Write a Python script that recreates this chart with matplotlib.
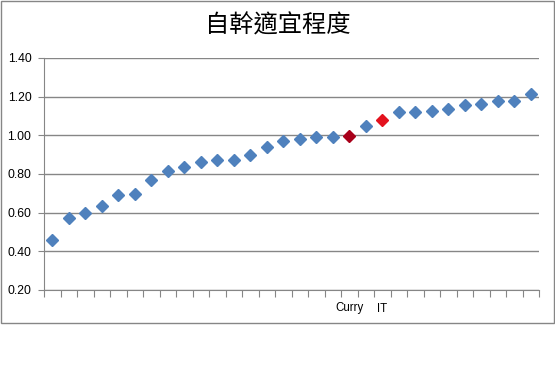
import matplotlib
matplotlib.use("Agg")
import matplotlib.pyplot as plt
from matplotlib.patches import Rectangle

plt.rcParams['font.family'] = ['Noto Sans CJK TC', 'DejaVu Sans']

title = "自幹適宜程度"
values = [0.46, 0.57, 0.60, 0.634, 0.693, 0.699, 0.771, 0.818, 0.834, 0.86,
          0.87, 0.87, 0.896, 0.938, 0.972, 0.982, 0.993, 0.993, 0.996, 1.05,
          1.08, 1.123, 1.123, 1.128, 1.138, 1.157, 1.161, 1.177, 1.177, 1.213]
labels = [""] * 30
labels[18] = "Curry"
labels[20] = "IT"
colors = ["#4F81BD"] * 30
colors[18] = "#A8001A"
colors[20] = "#E3121E"
yticks = [0.20, 0.40, 0.60, 0.80, 1.00, 1.20, 1.40]

fig = plt.figure(figsize=(5.55, 3.80), dpi=100)
ax = fig.add_axes([44/555, 1-290/380, (539-44)/555, (290-58)/380])

xs = list(range(len(values)))
for x, v, c in zip(xs, values, colors):
    ax.plot(x, v, marker='D', markersize=6.3, color=c, markeredgecolor=c, linestyle='none', zorder=3)

ax.set_xlim(-0.5, len(values) - 0.5)
ax.set_ylim(0.2, 1.4)
ax.set_yticks(yticks)
ax.set_yticklabels([f"{t:.2f}" for t in yticks], fontsize=8.8, family=['Liberation Sans', 'DejaVu Sans'])
ax.yaxis.grid(True, color="#868686", linewidth=1)
ax.set_axisbelow(True)

ax.set_xticks([i - 0.5 for i in range(len(values) + 1)])
ax.set_xticklabels([])
ax.set_xticks(xs, minor=True)
ax.set_xticklabels(labels, minor=True, fontsize=8.3, family=['Liberation Sans', 'DejaVu Sans'])
ax.tick_params(axis='x', which='minor', length=0, pad=9)
ax.tick_params(axis='x', which='major', length=5, color="#868686", direction='out')
ax.tick_params(axis='y', length=4, color="#868686", pad=5)

for s in ['top', 'right']:
    ax.spines[s].set_visible(False)
for s in ['left', 'bottom']:
    ax.spines[s].set_color("#868686")

fig.text(278/555, 1 - 25/380, title, ha='center', va='center', fontsize=17.5)

fig.patches.append(Rectangle((0.5/555, 1 - 323/380), 553/555, 323/380 - 0.5/380,
                             transform=fig.transFigure, fill=False,
                             edgecolor="#868686", linewidth=1))

fig.savefig("out.png", dpi=100)
